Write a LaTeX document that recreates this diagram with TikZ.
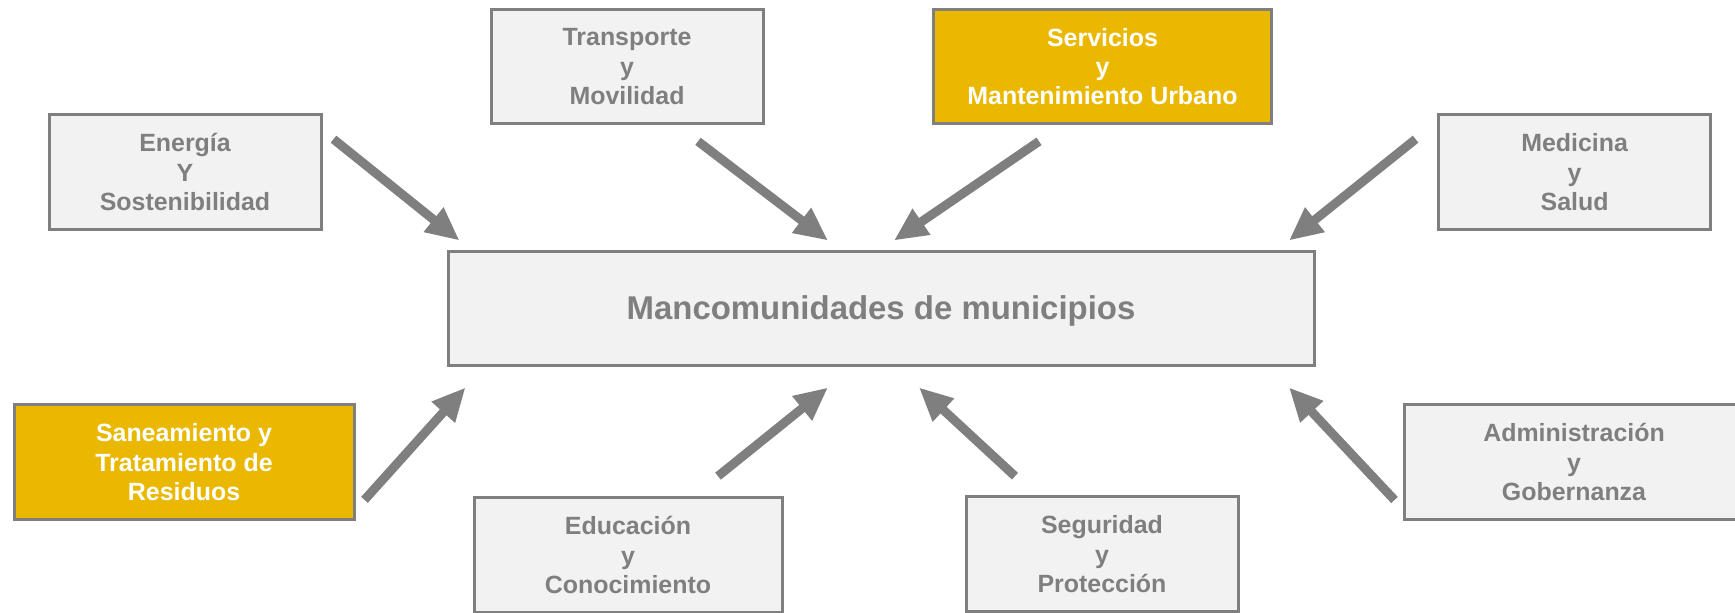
\documentclass[tikz,border=0pt]{standalone}
\usepackage{fontspec}
\setmainfont{Liberation Sans}
\definecolor{gris}{HTML}{7F7F7F}
\definecolor{grisclaro}{HTML}{F2F2F2}
\definecolor{oro}{HTML}{EAB800}
\usetikzlibrary{calc, arrows.meta}

\begin{document}
\begin{tikzpicture}[x=0.75pt, y=-0.75pt,
  area/.style={draw=gris, fill=grisclaro, line width=2.25pt,
               minimum width=204pt, minimum height=86pt, align=center,
               inner sep=0pt, text=gris, text depth=0pt,
               font=\fontsize{18.7}{22}\selectfont\bfseries},
  destacado/.style={area, fill=oro, text=white},
  central/.style={area, minimum width=649.5pt, minimum height=85.5pt,
                  font=\fontsize{24.7}{28}\selectfont\bfseries},
  flecha/.style={draw=gris, line width=6.75pt,
                 -{Triangle[length=25pt, width=22pt]}},
]
\useasboundingbox (0,0) rectangle (1735,612);

\node[central] (centro) at (881,308) {Mancomunidades de municipios};

\node[area] (energia) at (185,172) {Energía\\Y\\Sostenibilidad};
\node[area] (transporte) at (627,66.5) {Transporte\\y\\Movilidad};
\node[destacado, minimum width=254pt] (servicios) at (1102.5,66.5)
  {Servicios\\y\\Mantenimiento Urbano};
\node[area] (medicina) at (1574.6,172) {Medicina\\y\\Salud};

\node[destacado, minimum width=255pt] (saneamiento) at (184,462)
  {Saneamiento y\\Tratamiento de\\Residuos};
\node[area, minimum width=231pt] (educacion) at (628,555)
  {Educación\\y\\Conocimiento};
\node[area] (seguridad) at (1102,554) {Seguridad\\y\\Protección};
\node[area, minimum width=255pt] (administracion) at (1574,462)
  {Administración\\y\\Gobernanza};

\draw[flecha] ($(energia.north east)+(11,26)$) -- ($(centro.north west)+(13,-9)$);
\draw[flecha] ($(transporte.south)+(71,16)$) -- ($(centro.north)+(-53,-9)$);
\draw[flecha] ($(servicios.south)+(-63.5,16)$) -- ($(centro.north)+(13,-9)$);
\draw[flecha] ($(medicina.north west)+(-21.5,26)$) -- ($(centro.north east)+(-26.5,-9)$);

\draw[flecha] ($(saneamiento.south east)+(9,-21)$) -- ($(centro.south west)+(19,21)$);
\draw[flecha] ($(educacion.north)+(90,-20)$) -- ($(centro.south)+(-53,21)$);
\draw[flecha] ($(seguridad.north)+(-87,-19)$) -- ($(centro.south)+(38,21)$);
\draw[flecha] ($(administracion.west)+(-8,38)$) -- ($(centro.south east)+(-26.5,21)$);
\end{tikzpicture}
\end{document}
